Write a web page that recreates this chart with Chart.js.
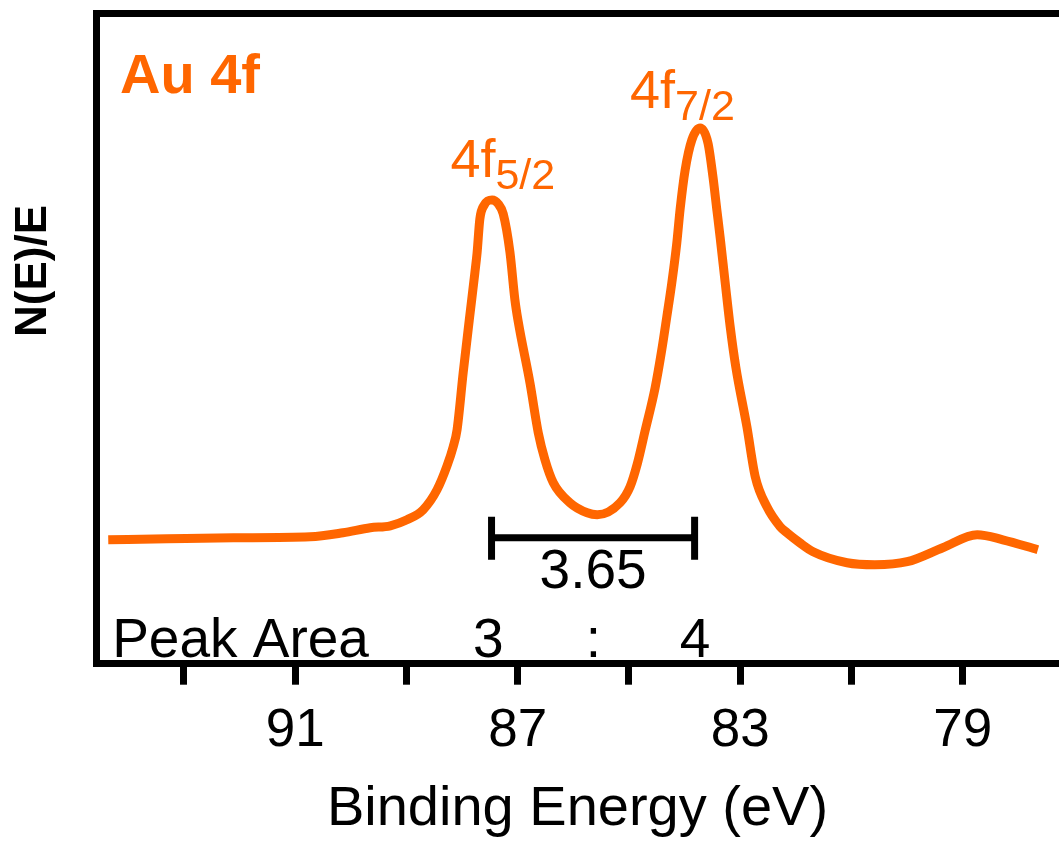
<!DOCTYPE html>
<html>
<head>
<meta charset="utf-8">
<title>Au 4f XPS</title>
<script src="https://cdn.jsdelivr.net/npm/chart.js@4.4.1/dist/chart.umd.min.js"></script>
<style>
  html, body { margin: 0; padding: 0; background: #fff; overflow: hidden; }
  canvas { display: block; }
</style>
</head>
<body>
<canvas id="xpsChart" width="1059" height="844"></canvas>
<script>
// Spectrum (binding energy in eV, intensity in arbitrary units)
const energy = [94.36, 93.30, 92.11, 90.73, 90.14, 89.65, 89.29, 88.99, 88.70, 88.45,
    88.27, 88.16, 88.09, 87.98, 87.87, 87.77, 87.73, 87.68, 87.60, 87.46,
    87.35, 87.26, 87.14, 87.05, 86.99, 86.78, 86.63, 86.51, 86.36, 86.06,
    85.75, 85.57, 85.16, 84.98, 84.85, 84.71, 84.53, 84.41, 84.32, 84.23,
    84.14, 84.08, 83.99, 83.87, 83.72, 83.58, 83.49, 83.42, 83.36, 83.27,
    83.18, 83.08, 82.88, 82.73, 82.52, 82.28, 82.16, 81.93, 81.69, 81.08,
    80.58, 80.00, 79.36, 78.74, 78.28, 77.65];
const intensity = [124, 125, 126, 127, 131, 136, 138, 144, 154, 174,
    198, 217, 234, 291, 344, 391, 411, 445, 459, 464,
    460, 450, 412, 364, 342, 281, 231, 204, 181, 161,
    151, 149, 161, 177, 200, 233, 276, 314, 347, 381,
    421, 455, 494, 524, 536, 521, 487, 454, 426, 381,
    337, 297, 237, 187, 157, 137, 131, 121, 112, 101,
    99, 102, 116, 129, 124, 114];

// Axis
const xMin = 77.27;
const xMax = 94.58;
const tickValues = [93, 91, 89, 87, 85, 83, 81, 79];
const tickLabels = [91, 87, 83, 79];

// Spin-orbit splitting bracket
const peakEnergy = [87.47, 83.82];
const bracketLevel = 126;
const bracketCap = [147, 104];
const splitting = '3.65';

// Peak labels
const peakNames = ['4f', '4f'];
const peakSubs = ['5/2', '7/2'];
const peakLabelE = [88.21, 84.98];
const peakLabelI = [487, 556];

// Peak area ratio
const areaTitle = 'Peak Area';
const areaTitleE = 94.29;
const areaParts = ['3', ':', '4'];
const areaPartsE = [87.53, 85.64, 83.81];
const areaLevel = 7;

const orange = '#ff6600';
const fontFamily = "'Liberation Sans', Arial, Helvetica, sans-serif";

const bracketData = [
    { x: peakEnergy[0], y: bracketCap[0] },
    { x: peakEnergy[0], y: bracketCap[1] },
    { x: peakEnergy[0], y: null },
    { x: peakEnergy[0], y: bracketLevel },
    { x: peakEnergy[1], y: bracketLevel },
    { x: peakEnergy[1], y: null },
    { x: peakEnergy[1], y: bracketCap[0] },
    { x: peakEnergy[1], y: bracketCap[1] }
];

// Text drawn on top of the plot
const annotations = {
    id: 'annotations',
    afterDraw(chart) {
        const ctx = chart.ctx;
        const xs = chart.scales.x;
        const ys = chart.scales.y;
        const area = chart.chartArea;
        ctx.save();

        // panel title
        ctx.fillStyle = orange;
        ctx.font = 'bold 56px ' + fontFamily;
        ctx.textAlign = 'left';
        ctx.textBaseline = 'alphabetic';
        ctx.fillText('Au 4f', area.left + 24, area.top + 80);

        // peak labels with subscripts
        peakNames.forEach((name, i) => {
            const px = xs.getPixelForValue(peakLabelE[i]);
            const py = ys.getPixelForValue(peakLabelI[i]);
            ctx.font = '54px ' + fontFamily;
            ctx.fillText(name, px, py);
            const w = ctx.measureText(name).width;
            ctx.font = '43px ' + fontFamily;
            ctx.fillText(peakSubs[i], px + w, py + 12);
        });

        // splitting value
        ctx.fillStyle = '#000';
        ctx.font = '55px ' + fontFamily;
        ctx.textAlign = 'center';
        const midE = (peakEnergy[0] + peakEnergy[1]) / 2;
        ctx.fillText(splitting, xs.getPixelForValue(midE), ys.getPixelForValue(76));

        // peak area ratio
        ctx.textAlign = 'left';
        ctx.fillText(areaTitle, xs.getPixelForValue(areaTitleE), ys.getPixelForValue(areaLevel));
        ctx.textAlign = 'center';
        areaParts.forEach((t, i) => {
            ctx.fillText(t, xs.getPixelForValue(areaPartsE[i]), ys.getPixelForValue(areaLevel));
        });

        // y axis label
        ctx.translate(33.5, 271);
        ctx.rotate(-Math.PI / 2);
        ctx.font = 'bold 44px ' + fontFamily;
        ctx.textAlign = 'center';
        ctx.textBaseline = 'middle';
        ctx.fillText('N(E)/E', 0, 0);
        ctx.restore();
    }
};

const ctx = document.getElementById('xpsChart').getContext('2d');
new Chart(ctx, {
    type: 'line',
    data: {
        datasets: [
            {
                label: 'Au 4f',
                data: energy.map((e, i) => ({ x: e, y: intensity[i] })),
                borderColor: orange,
                borderWidth: 9,
                pointRadius: 0,
                cubicInterpolationMode: 'monotone',
                fill: false
            },
            {
                label: 'splitting',
                data: bracketData,
                borderColor: '#000',
                borderWidth: 7,
                pointRadius: 0,
                tension: 0,
                spanGaps: false,
                borderCapStyle: 'butt',
                fill: false
            }
        ]
    },
    options: {
        responsive: false,
        animation: false,
        layout: {
            padding: { left: 96, top: 13, right: 0, bottom: 0 }
        },
        plugins: {
            legend: { display: false },
            tooltip: { enabled: false }
        },
        scales: {
            x: {
                type: 'linear',
                position: 'bottom',
                reverse: true,
                min: xMin,
                max: xMax,
                afterBuildTicks: function(scale) {
                    scale.ticks = tickValues.map(v => ({ value: v }));
                },
                ticks: {
                    color: '#000',
                    padding: 18,
                    autoSkip: false,
                    maxRotation: 0,
                    font: { family: fontFamily, size: 53, lineHeight: 1.1 },
                    callback: function(value) {
                        return tickLabels.includes(value) ? String(value) : '';
                    }
                },
                grid: {
                    display: true,
                    drawOnChartArea: false,
                    drawTicks: true,
                    tickLength: 21,
                    tickWidth: 7,
                    tickColor: '#000'
                },
                border: { display: true, color: '#000', width: 7 },
                title: {
                    display: true,
                    text: 'Binding Energy (eV)',
                    color: '#000',
                    font: { family: fontFamily, size: 56, lineHeight: 1.0 },
                    padding: { top: 3, bottom: 6 }
                }
            },
            xTop: {
                type: 'linear',
                position: 'top',
                reverse: true,
                min: xMin,
                max: xMax,
                ticks: { display: false },
                grid: { display: false, drawTicks: false },
                border: { display: true, color: '#000', width: 7 }
            },
            y: {
                type: 'linear',
                min: 0,
                max: 651,
                ticks: { display: false },
                grid: { display: false, drawTicks: false },
                border: { display: true, color: '#000', width: 7 }
            }
        }
    },
    plugins: [annotations]
});
</script>
</body>
</html>
